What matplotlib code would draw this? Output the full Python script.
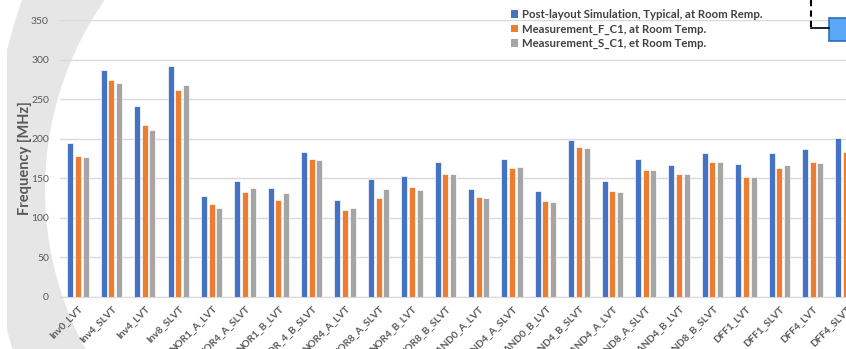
import numpy as np
import matplotlib.pyplot as plt
from matplotlib.patches import Patch, Polygon, Rectangle
from matplotlib.lines import Line2D

W, H = 846, 349

cells = ["Inv0_LVT", "Inv4_SLVT", "Inv4_LVT", "Inv8_SLVT", "NOR1_A_LVT", "NOR4_A_SLVT",
         "NOR1_B_LVT", "NOR_4_B_SLVT", "NOR4_A_LVT", "NOR8_A_SLVT", "NOR4_B_LVT", "NOR8_B_SLVT",
         "NAND0_A_LVT", "NAND4_A_SLVT", "NAND0_B_LVT", "NAND4_B_SLVT", "NAND4_A_LVT", "NAND8_A_SLVT",
         "NAND4_B_LVT", "NAND8_B_SLVT", "DFF1_LVT", "DFF1_SLVT", "DFF4_LVT", "DFF4_SLVT"]
sim_typ = [195, 287, 241, 292, 128, 147, 138, 183, 122, 149, 153, 170,
           136, 174, 134, 199, 146, 174, 167, 182, 168, 182, 187, 201]
meas_f = [178, 274, 217, 262, 118, 133, 122, 174, 110, 125, 139, 155,
          126, 163, 121, 189, 134, 161, 156, 171, 152, 163, 170, 183]
meas_s = [177, 271, 211, 268, 113, 138, 131, 173, 113, 137, 135, 155,
          125, 164, 120, 188, 133, 160, 155, 170, 152, 167, 169, 182]
series_names = ["Post-layout Simulation, Typical, at Room Remp.",
                "Measurement_F_C1, at Room Temp.",
                "Measurement_S_C1, et Room Temp."]
colors = ["#4472C4", "#ED7D31", "#A5A5A5"]
yticks = [0, 50, 100, 150, 200, 250, 300, 350]

plt.rcParams['font.family'] = ['Lato', 'DejaVu Sans']
txt = "#595959"

fig = plt.figure(figsize=(W / 100, H / 100), dpi=100)

def px(x, y):
    # pixel (top-left origin) -> figure fraction
    return (x / W, 1 - y / H)

# grey crescent behind the chart
ys = np.linspace(-5, H + 5, 200)
x_out = 377 - np.sqrt(332**2 - (ys - 190)**2)
x_in = np.maximum(570 - np.sqrt(580**2 - (ys - 190)**2), 7)
pts = [px(x, y) for x, y in zip(x_out, ys)] + [px(x, y) for x, y in zip(x_in[::-1], ys[::-1])]
fig.add_artist(Polygon(pts, closed=True, transform=fig.transFigure,
                       facecolor="#E6E6E6", edgecolor="none", zorder=-5))

ax = fig.add_axes([60 / W, 52 / H, (W - 60) / W, 277 / H])
ax.patch.set_alpha(0)

x = np.arange(len(cells))
bw, off = 0.18, 0.23
for k, (vals, c) in enumerate(zip([sim_typ, meas_f, meas_s], colors)):
    ax.bar(x + (k - 1) * off, vals, width=bw, color=c, edgecolor="white",
           linewidth=0.5, zorder=3)

ax.set_xlim(-0.54, 23.0)
ax.set_ylim(0, 350)
ax.set_yticks(yticks)
ax.set_xticks(x)
ax.set_xticklabels(cells, rotation=45, ha="right", rotation_mode="anchor",
                   fontsize=7.2, fontweight="bold", color=txt)
ax.tick_params(axis="both", length=0, colors=txt)
ax.tick_params(axis="y", labelsize=7.5, pad=8)
ax.tick_params(axis="x", pad=5)
ax.grid(axis="y", color="#D9D9D9", linewidth=1, zorder=0)
for s in ["top", "right", "left"]:
    ax.spines[s].set_visible(False)
ax.spines["bottom"].set_color("#D9D9D9")
ax.set_ylabel("Frequency [MHz]", fontsize=10.5, fontweight="bold", color=txt)
ax.yaxis.set_label_coords(-28 / (W - 60), 0.5)

handles = [Patch(facecolor=c, edgecolor="none") for c in colors]
leg = fig.legend(handles, series_names, loc="upper left", bbox_to_anchor=px(511, 9),
                 frameon=False, fontsize=8.2, handlelength=0.6, handleheight=0.6,
                 handletextpad=0.35, labelspacing=0.3, borderpad=0, borderaxespad=0)
for t in leg.get_texts():
    t.set_color("#404040")
    t.set_fontweight("bold")

# connector and box at top right
fig.add_artist(Line2D([811 / W, 811 / W], [1, 1 - 28 / H], transform=fig.transFigure,
                      color="black", linewidth=1.5, linestyle=(0, (3, 2))))
fig.add_artist(Line2D([811 / W, 829 / W], [1 - 28 / H, 1 - 28 / H], transform=fig.transFigure,
                      color="black", linewidth=1.2))
fig.add_artist(Rectangle(px(829, 41), 30 / W, 23 / H, transform=fig.transFigure,
                         facecolor="#5AA7F8", edgecolor="#2F6EBA", linewidth=1.2))

fig.savefig("out.png", dpi=100)
